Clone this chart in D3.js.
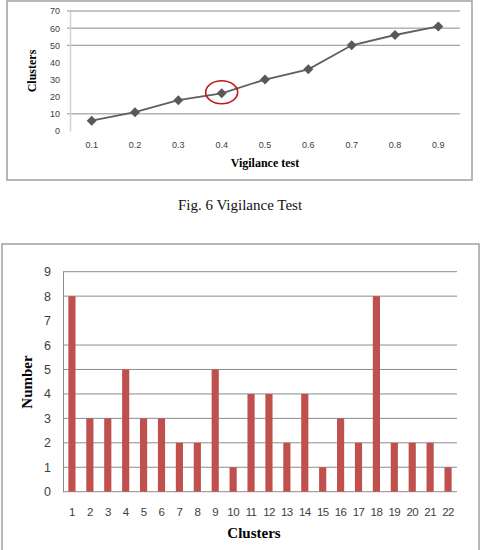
<!DOCTYPE html>
<html>
<head>
<meta charset="utf-8">
<script src="https://cdn.jsdelivr.net/npm/d3@7"></script>
<style>
  body { margin: 0; background: #fff; }
  svg { display: block; }
  .tick text { fill: #404040; }
</style>
</head>
<body>
<div id="chart"></div>
<script>
// --- top chart: vigilance test
var vigLabels = ["0.1", "0.2", "0.3", "0.4", "0.5", "0.6", "0.7", "0.8", "0.9"];
var vigClusters = [6, 11, 18, 22, 30, 36, 50, 56, 61];
var vigTicks = [0, 10, 20, 30, 40, 50, 60, 70];
var vigGrid = [10, 50, 60, 70]; // only these show in the scan
var vigHighlight = "0.4";

// --- bottom chart: number per cluster
var clusterIds = ["1","2","3","4","5","6","7","8","9","10","11","12","13","14","15","16","17","18","19","20","21","22"];
var clusterCounts = [8, 3, 3, 5, 3, 3, 2, 2, 5, 1, 4, 4, 2, 4, 1, 3, 2, 8, 2, 2, 2, 1];
var countTicks = [0, 1, 2, 3, 4, 5, 6, 7, 8, 9];
var countGrid = [0, 1, 2, 3, 4, 5, 6, 8, 9];

var W = 486, H = 550;
var svg = d3.select("#chart").append("svg")
  .attr("width", W)
  .attr("height", H);

// ================= top chart =================
var topG = svg.append("g");
topG.append("rect")
  .attr("x", 7).attr("y", 1).attr("width", 465).attr("height", 179)
  .style("fill", "none").style("stroke", "#a0a0a0").style("stroke-width", 1.5);

var x1 = d3.scaleBand().domain(vigLabels).range([70, 460]);
var y1 = d3.scaleLinear().domain([0, 70]).range([131, 11]);

topG.selectAll("line.grid")
  .data(vigGrid)
  .enter().append("line")
    .attr("class", "grid")
    .attr("x1", 67).attr("x2", 460)
    .attr("y1", function(d) { return y1(d); })
    .attr("y2", function(d) { return y1(d); })
    .style("stroke", "#8c8c8c").style("stroke-width", 1);

var yAx1 = topG.append("g")
  .attr("transform", "translate(70,0)")
  .call(d3.axisLeft(y1).tickValues(vigTicks).tickSize(0).tickSizeOuter(0).tickPadding(10));
yAx1.select(".domain").style("stroke", "#d0d0d0").style("stroke-width", 1.5);
yAx1.selectAll("text").style("font-family", "'Liberation Sans', Arial, sans-serif").style("font-size", "9px");

var xAx1 = topG.append("g")
  .attr("transform", "translate(0,131)")
  .call(d3.axisBottom(x1).tickSize(0).tickPadding(11));
xAx1.select(".domain").remove();
xAx1.selectAll("text").style("font-family", "'Liberation Sans', Arial, sans-serif").style("font-size", "9px");

var line = d3.line()
  .x(function(d, i) { return x1(vigLabels[i]) + x1.bandwidth() / 2; })
  .y(function(d) { return y1(d); });

topG.append("path")
  .attr("d", line(vigClusters))
  .style("fill", "none").style("stroke", "#5f5f5f").style("stroke-width", 1.8);

topG.selectAll("path.pt")
  .data(vigClusters)
  .enter().append("path")
    .attr("class", "pt")
    .attr("d", d3.symbol(d3.symbolSquare, 50))
    .attr("transform", function(d, i) {
      return "translate(" + (x1(vigLabels[i]) + x1.bandwidth() / 2) + "," + y1(d) + ") rotate(45)";
    })
    .style("fill", "#595959");

var hi = vigLabels.indexOf(vigHighlight);
topG.append("ellipse")
  .attr("cx", x1(vigHighlight) + x1.bandwidth() / 2)
  .attr("cy", y1(vigClusters[hi]) - 1)
  .attr("rx", 16).attr("ry", 11.5)
  .style("fill", "none").style("stroke", "#c0161c").style("stroke-width", 1.6);

topG.append("text")
  .attr("x", 265).attr("y", 167)
  .attr("text-anchor", "middle")
  .style("font-family", "'Liberation Serif', 'Times New Roman', serif")
  .style("font-weight", "bold").style("font-size", "12px")
  .text("Vigilance test");

topG.append("text")
  .attr("transform", "translate(36,71) rotate(-90)")
  .attr("text-anchor", "middle")
  .style("font-family", "'Liberation Serif', 'Times New Roman', serif")
  .style("font-weight", "bold").style("font-size", "12px")
  .text("Clusters");

svg.append("text")
  .attr("x", 240).attr("y", 210)
  .attr("text-anchor", "middle")
  .style("font-family", "'Liberation Serif', 'Times New Roman', serif")
  .style("font-size", "15px")
  .style("fill", "#111")
  .text("Fig. 6 Vigilance Test");

// ================= bottom chart =================
var botG = svg.append("g");
botG.append("rect")
  .attr("x", 2).attr("y", 244).attr("width", 477).attr("height", 320)
  .style("fill", "none").style("stroke", "#a0a0a0").style("stroke-width", 1.5);

var x2 = d3.scaleBand().domain(clusterIds).range([63, 457]).paddingInner(0.6).paddingOuter(0.3);
var y2 = d3.scaleLinear().domain([0, 9]).range([491.7, 271.7]);

botG.selectAll("line.grid")
  .data(countGrid)
  .enter().append("line")
    .attr("class", "grid")
    .attr("x1", 63).attr("x2", 457)
    .attr("y1", function(d) { return y2(d); })
    .attr("y2", function(d) { return y2(d); })
    .style("stroke", "#8c8c8c").style("stroke-width", 1);

var yAx2 = botG.append("g")
  .attr("transform", "translate(63,0)")
  .call(d3.axisLeft(y2).tickValues(countTicks).tickFormat(d3.format("d")).tickSize(0).tickSizeOuter(0).tickPadding(12));
yAx2.select(".domain").style("stroke", "#8c8c8c").style("stroke-width", 1);
yAx2.selectAll("text").style("font-family", "'Liberation Sans', Arial, sans-serif").style("font-size", "12.5px");

botG.selectAll("rect.bar")
  .data(clusterCounts)
  .enter().append("rect")
    .attr("class", "bar")
    .attr("x", function(d, i) { return x2(clusterIds[i]); })
    .attr("width", x2.bandwidth())
    .attr("y", function(d) { return y2(d); })
    .attr("height", function(d) { return y2(0) - y2(d); })
    .style("fill", "#c0504d");

var xAx2 = botG.append("g")
  .attr("transform", "translate(0,491.7)")
  .call(d3.axisBottom(x2).tickSize(0).tickPadding(16));
xAx2.select(".domain").remove();
xAx2.selectAll("text").style("font-family", "'Liberation Sans', Arial, sans-serif").style("font-size", "11.5px").style("letter-spacing", "-0.6px");

botG.append("text")
  .attr("x", 254).attr("y", 538)
  .attr("text-anchor", "middle")
  .style("font-family", "'Liberation Serif', 'Times New Roman', serif")
  .style("font-weight", "bold").style("font-size", "15px")
  .text("Clusters");

botG.append("text")
  .attr("transform", "translate(32,382) rotate(-90)")
  .attr("text-anchor", "middle")
  .style("font-family", "'Liberation Serif', 'Times New Roman', serif")
  .style("font-weight", "bold").style("font-size", "15px")
  .text("Number");
</script>
</body>
</html>
